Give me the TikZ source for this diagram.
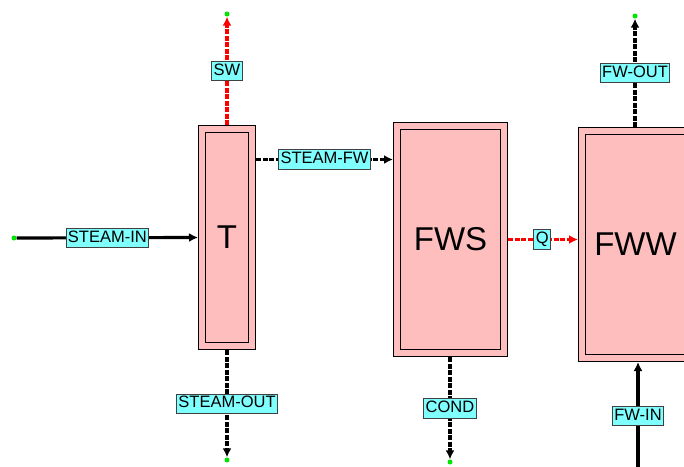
\documentclass[tikz,border=0pt]{standalone}
\usepackage{fontspec}
\setmainfont{Liberation Sans}
\usetikzlibrary{arrows.meta,positioning,calc}
\definecolor{blockpink}{RGB}{255,190,190}
\definecolor{tagcyan}{RGB}{128,255,255}
\definecolor{dotgreen}{RGB}{0,230,0}
\definecolor{streamred}{RGB}{255,0,0}

\begin{document}
\begin{tikzpicture}[x=1pt, y=-1pt,
  unit/.style={draw, line width=0.8pt, fill=blockpink, double=blockpink, double distance=6pt,
    outer sep=3.8pt, inner sep=0pt, font=\fontsize{33}{36}\selectfont},
  tag/.style={draw=black!75, solid, line width=0.8pt, fill=tagcyan, inner sep=2pt,
    text height=12pt, text depth=3.5pt, font=\fontsize{16.5}{18}\selectfont},
  port/.style={circle, fill=dotgreen, inner sep=0pt, minimum size=5pt},
  stream/.style={line width=3.2pt, -{Latex[length=9pt,width=9pt]}},
  hatched/.style={stream, dash pattern=on 5pt off 1.5pt}
]
\useasboundingbox (0,0) rectangle (684,466);

% units
\node[unit, minimum width=50.4pt, minimum height=217.4pt] (T) at (227,237.5) {T};
\node[unit, minimum width=107.4pt, minimum height=227.4pt] (FWS) at (450.5,239.5) {FWS};
\node[unit, minimum width=107.4pt, minimum height=227.4pt] (FWW) at (635.5,244.5) {FWW};

% open stream ends
\node[port] (steamin) at (14,238) {};
\node[port] (sw) at (227,14) {};
\node[port] (steamout) at (227,460) {};
\node[port] (cond) at (450,462) {};
\node[port] (fwout) at (635,16) {};
\coordinate (fwin) at (638,470);

% streams
\draw[stream] (steamin) -- node[tag] {STEAM-IN} (T.west);
\draw[hatched, streamred] (T.north) -- node[tag, text=black] {SW} (sw);
\draw[hatched] ([yshift=78pt]T.east) -- node[tag] {STEAM-FW} ([yshift=78pt]T.east -| FWS.west);
\draw[hatched] (T.south) -- node[tag] {STEAM-OUT} (steamout);
\draw[hatched] (FWS.south -| cond) -- node[tag] {COND} (cond);
\draw[hatched, streamred] (FWS.east) -- node[tag, text=black, pos=0.49] {Q} (FWS.east -| FWW.west);
\draw[hatched] (FWW.north -| fwout) -- node[tag] {FW-OUT} (fwout);
\draw[stream] (fwin) -- node[tag] {FW-IN} (fwin |- FWW.south);

\end{tikzpicture}
\end{document}
